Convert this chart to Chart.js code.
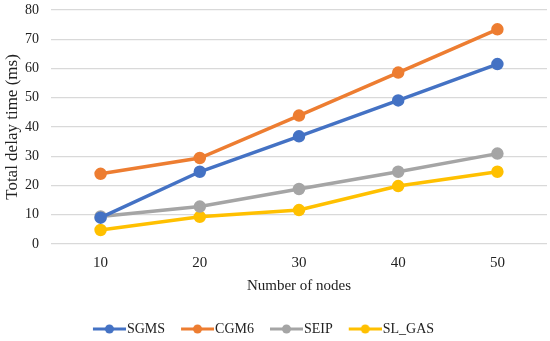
<!DOCTYPE html>
<html>
<head>
<meta charset="utf-8">
<script src="https://cdn.jsdelivr.net/npm/chart.js@4/dist/chart.umd.min.js"></script>
<style>
  html, body { margin: 0; padding: 0; background: #fff; }
  #wrap { width: 550px; height: 341px; }
</style>
</head>
<body>
<div id="wrap"><canvas id="chart"></canvas></div>
<script>
// datos
const nodes = ["10", "20", "30", "40", "50"];
const sgms = [9.0, 24.7, 36.8, 49.1, 61.5];
const cgm6 = [24.0, 29.4, 43.9, 58.6, 73.4];
const seip = [9.4, 12.8, 18.8, 24.7, 30.9];
const slGas = [4.8, 9.3, 11.6, 19.8, 24.7];

const colors = ["#4472C4", "#ED7D31", "#A5A5A5", "#FFC000"];
const font = "'Liberation Serif', 'Times New Roman', serif";

// icono de leyenda: línea con marcador circular (desplazado a la derecha del centro)
function legendIcon(color) {
    const c = document.createElement("canvas");
    c.width = 39; c.height = 10;
    const ctx = c.getContext("2d");
    ctx.strokeStyle = color;
    ctx.lineWidth = 3;
    ctx.beginPath();
    ctx.moveTo(6, 5); ctx.lineTo(39, 5);
    ctx.stroke();
    ctx.fillStyle = color;
    ctx.beginPath();
    ctx.arc(22.5, 5, 4.5, 0, Math.PI * 2);
    ctx.fill();
    return c;
}

function series(label, data, i) {
    return {
        label, data,
        borderColor: colors[i],
        backgroundColor: colors[i],
        borderWidth: 3.5,
        pointRadius: 4.5,
        pointHoverRadius: 4.5,
        pointStyle: "circle",
        tension: 0
    };
}

// mueve la leyenda un poco a la izquierda, como en el original
const shiftLegend = {
    id: "shiftLegend",
    afterLayout(chart) {
        chart.legend.left -= 11;
        chart.legend.right -= 11;
    }
};

new Chart(document.getElementById("chart"), {
    type: "line",
    data: {
        labels: nodes,
        datasets: [
            series("SGMS", sgms, 0),
            series("CGM6", cgm6, 1),
            series("SEIP", seip, 2),
            series("SL_GAS", slGas, 3)
        ]
    },
    plugins: [shiftLegend],
    options: {
        responsive: true,
        maintainAspectRatio: false,
        animation: false,
        layout: { autoPadding: false, padding: { top: 0, right: 3, left: 2, bottom: -5 } },
        plugins: {
            tooltip: { enabled: false },
            legend: {
                position: "bottom",
                labels: {
                    color: "#222",
                    font: { family: font, size: 14 },
                    usePointStyle: true,
                    pointStyleWidth: 27,
                    padding: 16,
                    generateLabels(chart) {
                        return chart.data.datasets.map((ds, i) => ({
                            text: ds.label,
                            pointStyle: legendIcon(colors[i]),
                            fillStyle: colors[i],
                            strokeStyle: colors[i],
                            lineWidth: 0,
                            datasetIndex: i,
                            fontColor: "#222"
                        }));
                    }
                }
            }
        },
        scales: {
            x: {
                offset: true,
                grid: { display: false, drawTicks: false },
                border: { display: false },
                ticks: { color: "#222", font: { family: font, size: 15 }, padding: 10 },
                title: {
                    display: true,
                    text: "Number of nodes",
                    color: "#222",
                    font: { family: font, size: 15 },
                    padding: { top: 0, bottom: 11 }
                },
                afterFit(scale) { scale.height = 62; }
            },
            y: {
                min: 0,
                max: 80,
                ticks: { stepSize: 10, color: "#222", font: { family: font, size: 14 }, padding: 12 },
                grid: { color: "#d9d9d9", lineWidth: 1.2, drawTicks: false },
                border: { display: false },
                title: {
                    display: true,
                    text: "Total delay time (ms)",
                    color: "#222",
                    font: { family: font, size: 17 },
                    padding: { top: 0, bottom: 0 }
                },
                afterFit(scale) {
                    scale.width = 49;
                    scale.paddingTop = 10;
                    scale.paddingBottom = 0;
                }
            }
        }
    }
});
</script>
</body>
</html>
